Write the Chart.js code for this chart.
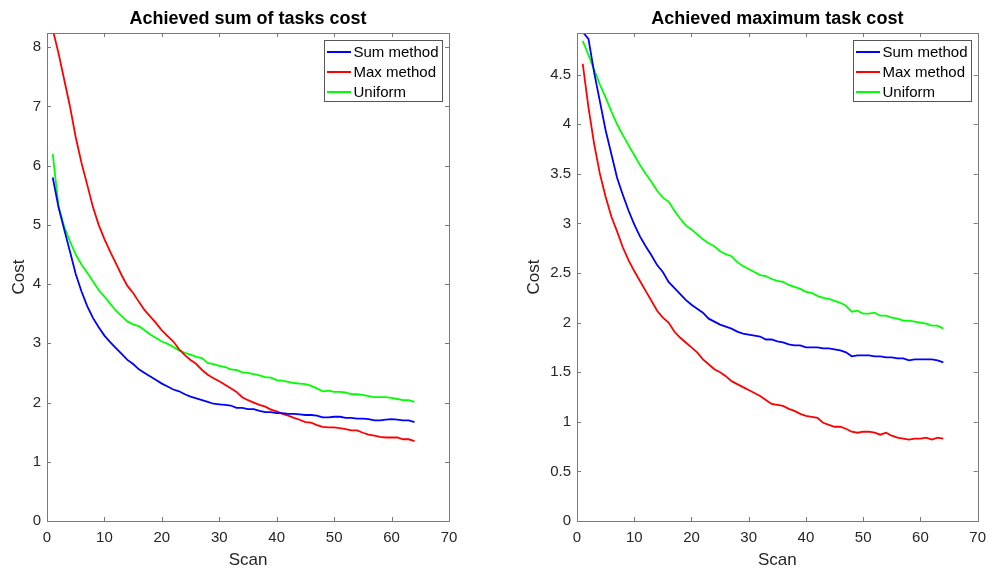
<!DOCTYPE html>
<html>
<head>
<meta charset="utf-8">
<script src="https://cdn.jsdelivr.net/npm/chart.js@4/dist/chart.umd.min.js"></script>
<style>
  html, body { margin: 0; padding: 0; background: #fff; }
  #wrap { position: relative; width: 994px; height: 575px; }
  canvas { position: absolute; top: 0; }
</style>
</head>
<body>
<div id="wrap">
  <canvas id="sumChart" width="497" height="575" style="left:0"></canvas>
  <canvas id="maxChart" width="497" height="575" style="left:497px"></canvas>
</div>
<script>
// scans on the x axis
const scans = [1, 2, 3, 4, 5, 6, 7, 8, 9, 10, 11, 12, 13, 14, 15, 16, 17, 18, 19, 20,
  21, 22, 23, 24, 25, 26, 27, 28, 29, 30, 31, 32, 33, 34, 35, 36, 37, 38, 39, 40,
  41, 42, 43, 44, 45, 46, 47, 48, 49, 50, 51, 52, 53, 54, 55, 56, 57, 58, 59, 60,
  61, 62, 63, 64];

const seriesNames = ['Sum method', 'Max method', 'Uniform'];
const titles = ['Achieved sum of tasks cost', 'Achieved maximum task cost'];

// left plot: achieved sum of tasks cost
const sumLeft = [5.8, 5.3, 4.92, 4.55, 4.17, 3.88, 3.63, 3.43, 3.27, 3.13,
  3.02, 2.92, 2.82, 2.72, 2.65, 2.56, 2.5, 2.44, 2.38, 2.32,
  2.27, 2.22, 2.19, 2.14, 2.1, 2.07, 2.04, 2.01, 1.98, 1.97,
  1.96, 1.95, 1.91, 1.91, 1.89, 1.89, 1.86, 1.84, 1.84, 1.82,
  1.82, 1.81, 1.81, 1.8, 1.79, 1.79, 1.78, 1.75, 1.75, 1.76,
  1.76, 1.74, 1.74, 1.73, 1.73, 1.72, 1.7, 1.7, 1.71, 1.72,
  1.71, 1.7, 1.7, 1.67];
const maxLeft = [8.3, 7.9, 7.45, 7.0, 6.48, 6.05, 5.68, 5.3, 5.0, 4.76,
  4.55, 4.35, 4.15, 3.97, 3.85, 3.7, 3.56, 3.45, 3.34, 3.22,
  3.12, 3.03, 2.9, 2.8, 2.72, 2.65, 2.55, 2.47, 2.41, 2.36,
  2.3, 2.24, 2.18, 2.09, 2.04, 2.0, 1.96, 1.93, 1.88, 1.85,
  1.81, 1.78, 1.74, 1.71, 1.67, 1.66, 1.62, 1.59, 1.58, 1.58,
  1.57, 1.55, 1.53, 1.53, 1.49, 1.46, 1.44, 1.42, 1.41, 1.41,
  1.41, 1.38, 1.38, 1.35];
const uniLeft = [6.2, 5.32, 4.97, 4.72, 4.5, 4.33, 4.19, 4.05, 3.9, 3.79,
  3.67, 3.55, 3.46, 3.37, 3.32, 3.29, 3.22, 3.15, 3.09, 3.03,
  2.99, 2.94, 2.88, 2.84, 2.81, 2.77, 2.75, 2.67, 2.65, 2.62,
  2.6, 2.56, 2.55, 2.51, 2.5, 2.48, 2.46, 2.43, 2.42, 2.38,
  2.37, 2.35, 2.33, 2.32, 2.31, 2.28, 2.24, 2.19, 2.2, 2.18,
  2.18, 2.17, 2.14, 2.14, 2.13, 2.11, 2.09, 2.09, 2.09, 2.08,
  2.06, 2.04, 2.04, 2.01];

// right plot: achieved maximum task cost
const sumRight = [4.93, 4.86, 4.52, 4.23, 3.94, 3.7, 3.46, 3.29, 3.13, 2.99,
  2.87, 2.77, 2.68, 2.58, 2.51, 2.41, 2.35, 2.29, 2.23, 2.18,
  2.14, 2.1, 2.04, 2.01, 1.98, 1.96, 1.94, 1.91, 1.89, 1.88,
  1.87, 1.86, 1.83, 1.83, 1.81, 1.8, 1.78, 1.77, 1.77, 1.75,
  1.75, 1.75, 1.74, 1.74, 1.73, 1.72, 1.7, 1.66, 1.67, 1.67,
  1.67, 1.66, 1.66, 1.65, 1.65, 1.64, 1.64, 1.62, 1.63, 1.63,
  1.63, 1.63, 1.62, 1.6];
const maxRight = [4.61, 4.17, 3.8, 3.5, 3.27, 3.07, 2.92, 2.76, 2.63, 2.52,
  2.42, 2.32, 2.22, 2.12, 2.05, 2.0, 1.91, 1.85, 1.8, 1.75,
  1.7, 1.63, 1.58, 1.53, 1.5, 1.46, 1.41, 1.38, 1.35, 1.32,
  1.29, 1.26, 1.22, 1.18, 1.17, 1.16, 1.13, 1.11, 1.08, 1.06,
  1.05, 1.04, 0.99, 0.97, 0.95, 0.95, 0.93, 0.9, 0.89, 0.9,
  0.9, 0.89, 0.87, 0.89, 0.86, 0.84, 0.83, 0.82, 0.83, 0.83,
  0.84, 0.82, 0.84, 0.83];
const uniRight = [4.84, 4.7, 4.55, 4.4, 4.27, 4.13, 4.0, 3.89, 3.79, 3.69,
  3.59, 3.5, 3.42, 3.33, 3.26, 3.22, 3.13, 3.05, 2.98, 2.94,
  2.89, 2.84, 2.8, 2.77, 2.72, 2.69, 2.67, 2.61, 2.57, 2.54,
  2.51, 2.48, 2.47, 2.44, 2.42, 2.41, 2.38, 2.36, 2.34, 2.31,
  2.3, 2.27, 2.25, 2.24, 2.22, 2.2, 2.17, 2.11, 2.12, 2.09,
  2.09, 2.1, 2.07, 2.07, 2.05, 2.04, 2.02, 2.02, 2.01, 2.0,
  1.99, 1.97, 1.97, 1.94];

const colors = ['rgb(0, 0, 255)', 'rgb(255, 0, 0)', 'rgb(0, 255, 0)'];
const FONT = '"Liberation Sans", Arial, sans-serif';
const AXIS_COLOR = '#7a7a7a';
const TEXT_COLOR = '#262626';

// matlab look: title, box, inward ticks on all four sides, legend top right
const matlabAxes = {
    id: 'matlabAxes',
    afterDraw(chart, args, opts) {
        const {ctx, chartArea: a} = chart;
        const xs = chart.scales.x, ys = chart.scales.y;
        ctx.save();

        // title
        ctx.fillStyle = '#000';
        ctx.font = 'bold 18px ' + FONT;
        ctx.textAlign = 'center';
        ctx.textBaseline = 'middle';
        ctx.fillText(opts.title, (a.left + a.right) / 2, 19);

        // box
        ctx.strokeStyle = AXIS_COLOR;
        ctx.lineWidth = 1;
        ctx.strokeRect(Math.round(a.left) + 0.5, Math.round(a.top) + 0.5,
            Math.round(a.right - a.left), Math.round(a.bottom - a.top));

        // ticks inside
        const len = 4;
        ctx.beginPath();
        xs.ticks.forEach(t => {
            const px = Math.round(xs.getPixelForValue(t.value)) + 0.5;
            ctx.moveTo(px, a.bottom); ctx.lineTo(px, a.bottom - len);
            ctx.moveTo(px, a.top); ctx.lineTo(px, a.top + len);
        });
        ys.ticks.forEach(t => {
            const py = Math.round(ys.getPixelForValue(t.value)) + 0.5;
            ctx.moveTo(a.left, py); ctx.lineTo(a.left + len, py);
            ctx.moveTo(a.right, py); ctx.lineTo(a.right - len, py);
        });
        ctx.stroke();

        // legend
        ctx.font = '15px ' + FONT;
        const names = chart.data.datasets.map(d => d.label);
        const textW = Math.max(...names.map(n => ctx.measureText(n).width));
        const w = Math.round(textW + 33), h = 61;
        const lx = Math.round(a.right - 7 - w), ly = Math.round(a.top + 7);
        ctx.fillStyle = '#fff';
        ctx.fillRect(lx, ly, w, h);
        ctx.strokeStyle = '#555';
        ctx.strokeRect(lx + 0.5, ly + 0.5, w, h);
        chart.data.datasets.forEach((d, i) => {
            const yy = ly + 12 + i * 20;
            ctx.strokeStyle = d.borderColor;
            ctx.lineWidth = 2;
            ctx.beginPath();
            ctx.moveTo(lx + 3, yy); ctx.lineTo(lx + 27, yy);
            ctx.stroke();
            ctx.fillStyle = '#000';
            ctx.textAlign = 'left';
            ctx.fillText(d.label, lx + 29.5, yy + 1);
        });
        ctx.restore();
    }
};

function makeChart(canvasId, title, series, yMax, yStep, yAxisWidth, padRight, yTitlePad) {
    const datasets = series.map((vals, i) => ({
        label: seriesNames[i],
        data: scans.map((s, j) => ({x: s, y: vals[j]})),
        borderColor: colors[i],
        borderWidth: 1.8,
        pointRadius: 0,
        tension: 0,
        fill: false
    }));
    return new Chart(document.getElementById(canvasId), {
        type: 'line',
        data: {datasets: datasets},
        options: {
            responsive: false,
            animation: false,
            layout: {padding: {top: 33, right: padRight, left: 0, bottom: 0}},
            plugins: {
                legend: {display: false},
                tooltip: {enabled: false},
                matlabAxes: {title: title}
            },
            scales: {
                x: {
                    type: 'linear',
                    min: 0, max: 70,
                    grid: {display: false, drawTicks: false},
                    border: {display: false},
                    ticks: {stepSize: 10, padding: 8, color: TEXT_COLOR,
                        font: {family: FONT, size: 15}, maxRotation: 0},
                    title: {display: true, text: 'Scan', color: TEXT_COLOR,
                        font: {family: FONT, size: 17}, padding: {top: 0, bottom: 4}},
                    afterFit: s => { s.height = 54; }
                },
                y: {
                    min: 0, max: yMax,
                    grid: {display: false, drawTicks: false},
                    border: {display: false},
                    ticks: {stepSize: yStep, includeBounds: false, padding: 6, color: TEXT_COLOR,
                        font: {family: FONT, size: 15}, callback: v => String(v)},
                    title: {display: true, text: 'Cost', color: TEXT_COLOR,
                        font: {family: FONT, size: 17}, padding: {top: yTitlePad, bottom: 0}},
                    afterFit: s => { s.width = yAxisWidth; }
                }
            }
        },
        plugins: [matlabAxes]
    });
}

makeChart('sumChart', titles[0], [sumLeft, maxLeft, uniLeft], 8.24, 1, 47, 48, 9);
makeChart('maxChart', titles[1], [sumRight, maxRight, uniRight], 4.92, 0.5, 80, 15, 27);
</script>
</body>
</html>
